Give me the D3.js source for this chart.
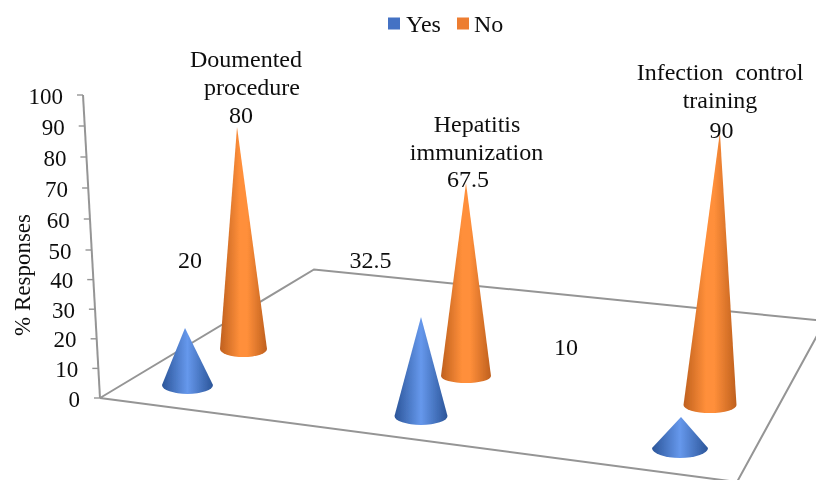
<!DOCTYPE html>
<html><head><meta charset="utf-8">
<script src="https://cdn.jsdelivr.net/npm/d3@7"></script>
<style>html,body{margin:0;padding:0;background:#fff}svg{display:block}text{font-family:"Liberation Serif",serif;fill:#111}</style>
</head><body><div id="chart"></div>
<script>
const categories = [["Doumented","procedure"],["Hepatitis","immunization"],["Infection  control","training"]];
const yesValues = [20,32.5,10];
const noValues = [80,67.5,90];
const yTicks = [0,10,20,30,40,50,60,70,80,90,100];
const seriesNames = ["Yes","No"];
const seriesColors = ["#4472C4","#ED7D31"];

const W=816,H=480,FS=24;
const svg=d3.select("#chart").append("svg").attr("width",W).attr("height",H).style("overflow","hidden");
const defs=svg.append("defs");
[["blue","#2b5599","#6698ec",[0,.5,1]],["orange","#bf601e","#ff8f3a",[0,.42,.58,1]]].forEach(([id,edge,mid,stops])=>{
  const g=defs.append("linearGradient").attr("id",id).attr("x1",0).attr("x2",1).attr("y1",0).attr("y2",0);
  stops.forEach((o,i)=>g.append("stop").attr("offset",o).attr("stop-color",(i===0||i===stops.length-1)?edge:mid));
});
defs.append("filter").attr("id","soft").append("feGaussianBlur").attr("stdDeviation",.5);
defs.append("filter").attr("id","softText").append("feGaussianBlur").attr("stdDeviation",.3);

// perspective scales
const yAxisY=d3.scaleLinear().domain([0,50,100]).range([398,250,95]);
const yAxisX=d3.scaleLinear().domain([0,100]).range([100,83]);
const idx=[0,1,2];
const layout=[
 {x:d3.scaleLinear().domain(idx).range([187.5,421,680]),
  base:d3.scaleLinear().domain(idx).range([385,416,448]),
  unit:d3.scaleLinear().domain(idx).range([2.85,3.05,3.1]),
  lean:d3.scaleLinear().domain(idx).range([-12.5,0,10]),
  rx:d3.scaleLinear().domain(idx).range([25.5,26.5,28]),
  ry:d3.scaleLinear().domain(idx).range([9,9,10]),fill:"url(#blue)"},
 {x:d3.scaleLinear().domain(idx).range([243.5,466,710]),
  base:d3.scaleLinear().domain(idx).range([349,376,405]),
  unit:d3.scaleLinear().domain(idx).range([2.775,2.86,3.03]),
  lean:d3.scaleLinear().domain(idx).range([-8.1,0,11]),
  rx:d3.scaleLinear().domain(idx).range([23.5,25,26.5]),
  ry:d3.scaleLinear().domain(idx).range([8,7,8]),fill:"url(#orange)"}
];

// floor
const grid=svg.append("g").attr("fill","none").attr("stroke","#959595").attr("stroke-width",2).attr("filter","url(#soft)");
const line=d3.line();
const origin=[yAxisX(0),yAxisY(0)];
grid.append("path").attr("d",line([origin,[314,269.5],[825,321],[737,482],origin]));
grid.append("path").attr("d",line([[yAxisX(100),yAxisY(100)],origin]));
grid.selectAll(".t").data(yTicks).join("path").attr("class","t").attr("stroke-width",1.4)
  .attr("d",t=>line([[yAxisX(t)-6,yAxisY(t)],[yAxisX(t),yAxisY(t)]]));

const axisText=svg.append("g").attr("filter","url(#softText)");
// tick labels
axisText.selectAll(".yl").data(yTicks).join("text").attr("class","yl")
  .attr("x",t=>yAxisX(t)-20).attr("y",t=>yAxisY(t)+8.5)
  .attr("text-anchor","end").attr("font-size",FS-1).text(t=>t);
axisText.append("text").attr("transform","translate(30,275) rotate(-90)").attr("text-anchor","middle").attr("font-size",FS-1).text("% Responses");

// cones
const cones=svg.append("g").attr("filter","url(#soft)");
[yesValues,noValues].forEach((vals,s)=>{
  const L=layout[s];
  cones.selectAll(".c"+s).data(vals).join("path").attr("class","c"+s).attr("fill",L.fill)
   .attr("d",(v,i)=>{
     const x=L.x(i),b=L.base(i),rx=L.rx(i),ry=L.ry(i);
     const y=d3.scaleLinear().domain([0,100]).range([b,b-100*L.unit(i)]);
     const tx=d3.scaleLinear().domain([0,100]).range([x,x+L.lean(i)]);
     return `M${tx(v)},${y(v)}L${x-rx},${b}A${rx},${ry} 0 0 0 ${x+rx},${b}Z`;
   });
});

const labelText=svg.append("g").attr("filter","url(#softText)");
// value labels
const yesLabelPos=[[190,268],[370.5,268],[566,355]];
const noLabelPos=[[241,123],[468,187],[721.5,138]];
[[yesValues,yesLabelPos],[noValues,noLabelPos]].forEach(([vals,pos])=>{
  vals.forEach((v,i)=>labelText.append("text").attr("x",pos[i][0]).attr("y",pos[i][1]).attr("text-anchor","middle").attr("font-size",FS).text(v));
});
// category labels
const catPos=[[[246,67],[252,95]],[[477,132],[476.5,160]],[[720,80],[720,108]]];
categories.forEach((lines,i)=>{
  lines.forEach((t,j)=>labelText.append("text").attr("x",catPos[i][j][0]).attr("y",catPos[i][j][1])
    .attr("text-anchor","middle").attr("font-size",FS).style("white-space","pre").text(t));
});
// legend
const legX=[388,457],legT=[406,474];
seriesNames.forEach((n,i)=>{
  svg.append("rect").attr("x",legX[i]).attr("y",17.5).attr("width",12).attr("height",12).attr("fill",seriesColors[i]);
  labelText.append("text").attr("x",legT[i]).attr("y",32).attr("font-size",FS).text(n);
});
</script></body></html>
